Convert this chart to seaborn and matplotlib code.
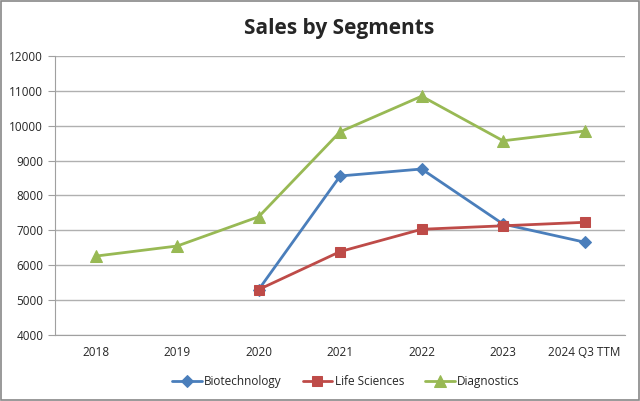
import numpy as np
import pandas as pd
import matplotlib
matplotlib.use("Agg")
import matplotlib.pyplot as plt
import seaborn as sns
from matplotlib.patches import Rectangle

years = ["2018", "2019", "2020", "2021", "2022", "2023", "2024 Q3 TTM"]
biotech = [np.nan, np.nan, 5300, 8560, 8760, 7180, 6660]
life_sci = [np.nan, np.nan, 5300, 6390, 7030, 7130, 7230]
diagnostics = [6260, 6550, 7390, 9830, 10850, 9570, 9850]

series = [
    ("Biotechnology", biotech, "#4A7EBB", "D", 6),
    ("Life Sciences", life_sci, "#BE4B48", "s", 7),
    ("Diagnostics", diagnostics, "#98B954", "^", 8),
]

sns.set_style("white")
plt.rcParams["font.family"] = ["Open Sans", "DejaVu Sans"]

fig = plt.figure(figsize=(6.4, 4.01), dpi=100)
ax = fig.add_axes([0.086, 0.165, 0.891, 0.695])

x = np.arange(len(years))
for name, vals, color, marker, ms in series:
    df = pd.DataFrame({"x": x, "y": vals}).dropna()
    sns.lineplot(data=df, x="x", y="y", ax=ax, color=color, marker=marker,
                 markersize=ms, markeredgecolor=color, linewidth=2, label=name)

ax.set_xlim(-0.5, len(years) - 0.5)
ax.set_ylim(4000, 12000)
ax.set_yticks(range(4000, 12001, 1000))
ax.yaxis.grid(True, color="#B0B0B0", linewidth=1)
ax.set_axisbelow(True)
ax.set_xticks(x)
ax.set_xticklabels(years)
ax.set_xticks(np.arange(-0.5, len(years), 1), minor=True)
ax.tick_params(axis="x", which="major", length=0, labelsize=8.5, pad=8)
ax.tick_params(axis="x", which="minor", length=5, color="#A0A0A0", direction="out")
ax.tick_params(axis="y", length=5, color="#A0A0A0", labelsize=8.5, direction="out", left=True)
ax.set_xlabel("")
ax.set_ylabel("")
for s in ["top", "right"]:
    ax.spines[s].set_visible(False)
for s in ["left", "bottom"]:
    ax.spines[s].set_color("#A0A0A0")

ax.legend(loc="upper center", bbox_to_anchor=(0.51, -0.105), ncol=3, frameon=False,
          fontsize=8.5, handlelength=2.5, columnspacing=1.8, handletextpad=0.2)

fig.text(0.53, 0.93, "Sales by Segments", ha="center", va="center",
         fontsize=15, fontweight="bold")
fig.patches.append(Rectangle((0.002, 0.003), 0.996, 0.994, transform=fig.transFigure,
                             fill=False, edgecolor="#888888", linewidth=1.2))

fig.savefig("out.png", dpi=100)
